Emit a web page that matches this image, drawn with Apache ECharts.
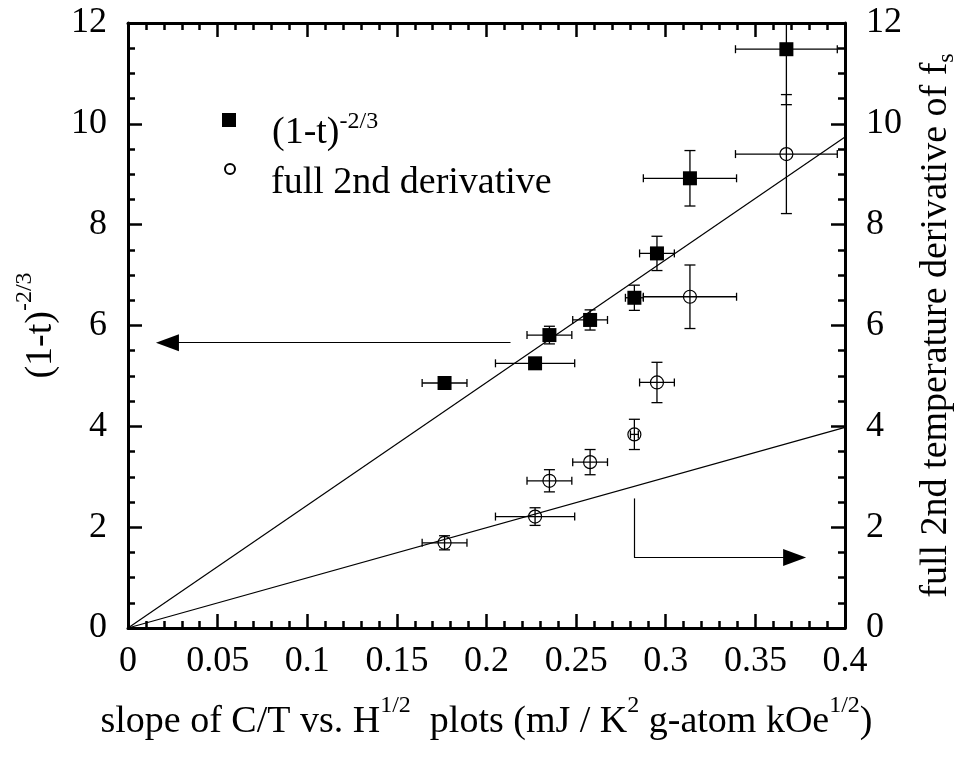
<!DOCTYPE html>
<html>
<head>
<meta charset="utf-8">
<script src="https://cdn.jsdelivr.net/npm/echarts@6/dist/echarts.min.js"></script>
<style>html,body{margin:0;padding:0;background:#fff}#c{width:967px;height:758px}</style>
</head>
<body>
<div id="c"></div>
<script>
// ---- data ----
const xVals   = [0.1766, 0.2271, 0.2351, 0.2578, 0.2825, 0.2951, 0.3135, 0.3673];
const xErrSq  = [0.0125, 0.0221, 0.0125, 0.0097, 0.0050, 0.0097, 0.0260, 0.0284];
const xErrCi  = [0.0125, 0.0221, 0.0125, 0.0097, 0.0022, 0.0097, 0.0260, 0.0284];
const ySq     = [4.86, 5.25, 5.81, 6.11, 6.55, 7.43, 8.92, 11.48];
const ySqErr  = [0.08, 0.10, 0.175, 0.20, 0.25, 0.34, 0.55, 1.10];
const yCi     = [1.69, 2.21, 2.92, 3.29, 3.84, 4.87, 6.57, 9.40];
const yCiErr  = [0.14, 0.175, 0.22, 0.25, 0.30, 0.40, 0.63, 1.18];
const fitLeft  = [[0, 0], [0.4, 9.74]];
const fitRight = [[0, 0], [0.4, 3.98]];
const arrowLeft  = [[0.2134, 5.66], [0.0220, 5.66]];
const arrowRight = [[0.2823, 2.57], [0.2823, 1.40], [0.3719, 1.40]];
const xTicks = [0, 0.05, 0.1, 0.15, 0.2, 0.25, 0.3, 0.35, 0.4];
const yTicks = [0, 2, 4, 6, 8, 10, 12];

const FONT = 'Liberation Serif';
const TF = 38, SF = 24;
const sqPts = xVals.map((x, i) => [x, ySq[i]]);
const ciPts = xVals.map((x, i) => [x, yCi[i]]);
const sqErr = xVals.map((x, i) => [x, ySq[i], xErrSq[i], ySqErr[i]]);
const ciErr = xVals.map((x, i) => [x, yCi[i], xErrCi[i], yCiErr[i]]);

function errRender(params, api) {
  const x = api.value(0), y = api.value(1), dx = api.value(2), dy = api.value(3);
  const l = api.coord([x - dx, y]), r = api.coord([x + dx, y]);
  const t = api.coord([x, y + dy]), b = api.coord([x, y - dy]);
  const st = { stroke: '#000', lineWidth: 1.3 };
  const hc = 4, vc = 5.5;
  const ch = [];
  const L = (x1, y1, x2, y2) => ch.push({ type: 'line', shape: { x1, y1, x2, y2 }, style: st });
  L(l[0], l[1], r[0], r[1]);
  L(l[0], l[1] - hc, l[0], l[1] + hc);
  L(r[0], r[1] - hc, r[0], r[1] + hc);
  L(t[0], t[1], b[0], b[1]);
  L(t[0] - vc, t[1], t[0] + vc, t[1]);
  L(b[0] - vc, b[1], b[0] + vc, b[1]);
  return { type: 'group', children: ch };
}

function supRichP(p) {
  return {
    a: { fontFamily: FONT, fontSize: TF, color: '#000', padding: [p, 0, 0, 0], verticalAlign: 'bottom' },
    s: { fontFamily: FONT, fontSize: SF, color: '#000', verticalAlign: 'top' }
  };
}
const supRich = supRichP(9);
const legRich = supRichP(4);
const leg2Rich = { a: { fontFamily: FONT, fontSize: TF, color: '#000', padding: [6, 0, 0, 0] } };
const subRich = {
  a: { fontFamily: FONT, fontSize: TF, color: '#000' },
  s: { fontFamily: FONT, fontSize: SF, color: '#000', verticalAlign: 'bottom', padding: [0, 0, -4, 0] }
};

const tickStyle = { width: 2.5, color: '#000' };
function xAx(pos, labels) {
  return {
    type: 'value', position: pos, min: xTicks[0], max: xTicks[xTicks.length - 1],
    interval: xTicks[1] - xTicks[0],
    axisLine: { show: true, onZero: false, lineStyle: { width: 3, color: '#000' } },
    axisTick: { show: true, inside: true, length: 14, lineStyle: tickStyle },
    minorTick: { show: true, splitNumber: 5, length: 7, lineStyle: tickStyle },
    splitLine: { show: false },
    axisLabel: { show: labels, color: '#000', fontFamily: FONT, fontSize: 36, margin: 16 },
    name: labels ? '{a|slope of C/T vs. H}{s|1/2}{a|  plots (mJ / K}{s|2}{a| g-atom kOe}{s|1/2}{a|)}' : '',
    nameLocation: 'middle', nameGap: 66,
    nameTextStyle: { color: '#000', fontFamily: FONT, fontSize: TF, rich: supRich }
  };
}
function yAx(pos, name, rich, gap) {
  return {
    type: 'value', position: pos, min: yTicks[0], max: yTicks[yTicks.length - 1],
    interval: yTicks[1] - yTicks[0],
    axisLine: { show: true, onZero: false, lineStyle: { width: 3, color: '#000' } },
    axisTick: { show: true, inside: true, length: 14, lineStyle: tickStyle },
    minorTick: { show: true, splitNumber: 4, length: 7, lineStyle: tickStyle },
    splitLine: { show: false },
    axisLabel: { color: '#000', fontFamily: FONT, fontSize: 36, margin: 21 },
    name: name, nameLocation: 'middle', nameGap: gap, nameRotate: 90,
    nameTextStyle: { color: '#000', fontFamily: FONT, fontSize: TF, rich: rich }
  };
}

const chart = echarts.init(document.getElementById('c'), null, { renderer: 'canvas' });
chart.setOption({
  animation: false,
  backgroundColor: '#fff',
  grid: { left: 128, right: 121, top: 23, bottom: 130 },
  xAxis: [xAx('bottom', true), xAx('top', false)],
  yAxis: [
    yAx('left', '{a|(1-t)}{s|-2/3}', supRich, 56),
    yAx('right', '{a|full 2nd temperature derivative of f}{s|s}', subRich, 72)
  ],
  legend: [
    { data: [{ name: 'sq', icon: 'rect' }], left: 222, top: 110, padding: 0,
      itemWidth: 14, itemHeight: 14, selectedMode: false,
      formatter: () => '{a|(1-t)}{s|-2/3}',
      textStyle: { color: '#000', fontFamily: FONT, fontSize: TF, padding: [22, 0, 0, 31], rich: legRich } },
    { data: [{ name: 'ci', icon: 'circle' }], left: 224, top: 163, padding: 0,
      itemWidth: 10, itemHeight: 10, selectedMode: false,
      formatter: () => '{a|full 2nd derivative}',
      textStyle: { color: '#000', fontFamily: FONT, fontSize: TF, padding: [23, 0, 0, 31], rich: leg2Rich } }
  ],
  series: [
    { type: 'line', data: fitLeft, xAxisIndex: 0, yAxisIndex: 0, showSymbol: false, silent: true,
      lineStyle: { color: '#000', width: 1.2 },
      markLine: { silent: true, animation: false, label: { show: false },
        lineStyle: { color: '#000', width: 1.2, type: 'solid' },
        data: [[{ coord: arrowLeft[0], symbol: 'none' },
                { coord: arrowLeft[1], symbol: 'triangle', symbolSize: [17, 23] }]] } },
    { type: 'line', data: fitRight, xAxisIndex: 0, yAxisIndex: 1, showSymbol: false, silent: true,
      lineStyle: { color: '#000', width: 1.2 },
      markLine: { silent: true, animation: false, label: { show: false },
        lineStyle: { color: '#000', width: 1.2, type: 'solid' },
        data: [[{ coord: arrowRight[0], symbol: 'none' }, { coord: arrowRight[1], symbol: 'none' }],
               [{ coord: arrowRight[1], symbol: 'none' },
                { coord: arrowRight[2], symbol: 'triangle', symbolSize: [17, 23] }]] } },
    { type: 'custom', name: 'sqErr', data: sqErr, xAxisIndex: 0, yAxisIndex: 0, renderItem: errRender,
      clip: true, silent: true, encode: { x: 0, y: 1 } },
    { type: 'custom', name: 'ciErr', data: ciErr, xAxisIndex: 0, yAxisIndex: 1, renderItem: errRender,
      clip: true, silent: true, encode: { x: 0, y: 1 } },
    { type: 'scatter', name: 'sq', data: sqPts, xAxisIndex: 0, yAxisIndex: 0, symbol: 'rect', symbolSize: 14,
      itemStyle: { color: '#000', opacity: 1 }, z: 5 },
    { type: 'scatter', name: 'ci', data: ciPts, xAxisIndex: 0, yAxisIndex: 1, symbol: 'circle', symbolSize: 13,
      itemStyle: { color: 'rgba(0,0,0,0)', borderColor: '#000', borderWidth: 1.2, opacity: 1 }, z: 5 }
  ]
});
</script>
</body>
</html>
